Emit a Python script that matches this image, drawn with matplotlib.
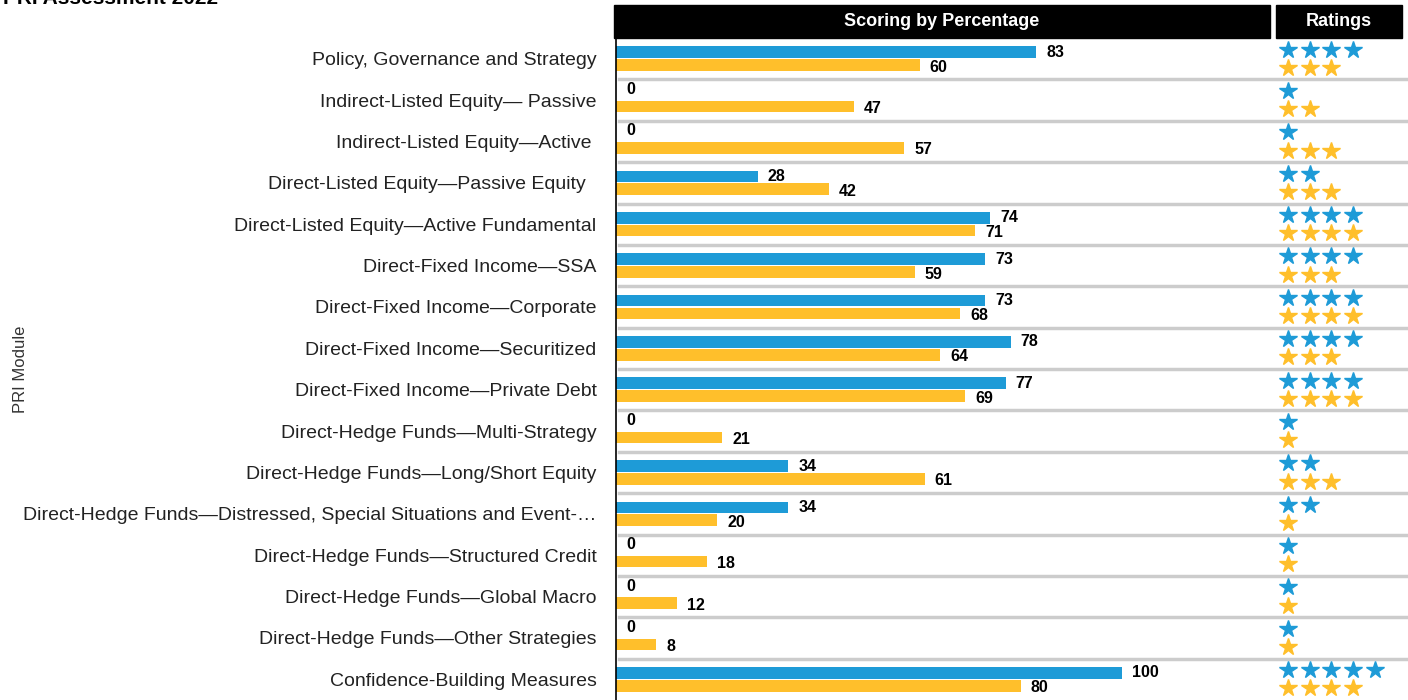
import numpy as np
import matplotlib
matplotlib.use("Agg")
import matplotlib.pyplot as plt
from matplotlib.patches import Rectangle

modules = [
    "Policy, Governance and Strategy",
    "Indirect-Listed Equity\u2014 Passive",
    "Indirect-Listed Equity\u2014Active ",
    "Direct-Listed Equity\u2014Passive Equity  ",
    "Direct-Listed Equity\u2014Active Fundamental",
    "Direct-Fixed Income\u2014SSA",
    "Direct-Fixed Income\u2014Corporate",
    "Direct-Fixed Income\u2014Securitized",
    "Direct-Fixed Income\u2014Private Debt",
    "Direct-Hedge Funds\u2014Multi-Strategy",
    "Direct-Hedge Funds\u2014Long/Short Equity",
    "Direct-Hedge Funds\u2014Distressed, Special Situations and Event-\u2026",
    "Direct-Hedge Funds\u2014Structured Credit",
    "Direct-Hedge Funds\u2014Global Macro",
    "Direct-Hedge Funds\u2014Other Strategies",
    "Confidence-Building Measures",
]
score_blue = [83, 0, 0, 28, 74, 73, 73, 78, 77, 0, 34, 34, 0, 0, 0, 100]
score_gold = [60, 47, 57, 42, 71, 59, 68, 64, 69, 21, 61, 20, 18, 12, 8, 80]
stars_blue = [4, 1, 1, 2, 4, 4, 4, 4, 4, 1, 2, 2, 1, 1, 1, 5]
stars_gold = [3, 2, 3, 3, 4, 3, 4, 3, 4, 1, 3, 1, 1, 1, 1, 4]

BLUE = "#1E9BD7"
GOLD = "#FFBF2B"
SEP = "#CCCCCC"
plt.rcParams["font.family"] = ["Liberation Sans", "DejaVu Sans"]

W, H = 1408, 700
fig = plt.figure(figsize=(W / 100, H / 100), dpi=100)

# main bar axes
ax = fig.add_axes([616 / W, 0, 654 / W, 1 - 38 / H])
n = len(modules)
y = np.arange(n)
bh = 0.28
off = 0.155
ax.barh(y - off, score_blue, height=bh, color=BLUE)
ax.barh(y + off, score_gold, height=bh, color=GOLD)
ax.set_xlim(0, 654 / 5.06)
ax.set_ylim(n - 0.5, -0.5)
for s in ["top", "right", "bottom"]:
    ax.spines[s].set_visible(False)
ax.spines["left"].set_linewidth(1.2)
ax.set_xticks([])
ax.set_yticks(y)
ax.set_yticklabels(modules, fontsize=14, color="#222222")
ax.tick_params(axis="y", length=0, pad=14)
ax.set_ylabel("PRI Module", fontsize=12, color="#333333")
ax.yaxis.set_label_coords(-588 / 654, 0.5)

for i in range(n):
    b, g = score_blue[i], score_gold[i]
    yb = i - off - (0.1 if b == 0 else 0)
    ax.text(b + 2.0, yb, str(b), fontsize=11.5, fontweight="bold",
            va="center", ha="left")
    ax.text(g + 2.0, i + off + 0.05, str(g), fontsize=11.5, fontweight="bold",
            va="center", ha="left")

# row separators
for i in range(n - 1):
    ax.axhline(i + 0.5, xmin=3 / 654, xmax=(W - 616) / 654, color=SEP,
               lw=2.5, clip_on=False, zorder=0)

# ratings axes
ax2 = fig.add_axes([1276 / W, 0, 132 / W, 1 - 38 / H])
ax2.set_xlim(-0.55, -0.55 + 132 / 21.7)
ax2.set_ylim(n - 0.5, -0.5)
ax2.axis("off")
for i in range(n):
    xb = np.arange(stars_blue[i])
    xg = np.arange(stars_gold[i])
    ax2.plot(xb, np.full(len(xb), i - 0.22), ls="", marker="*", ms=13,
             color=BLUE, mec=BLUE)
    ax2.plot(xg, np.full(len(xg), i + 0.22), ls="", marker="*", ms=13,
             color=GOLD, mec=GOLD)

# header boxes
fig.patches.append(Rectangle((614 / W, 1 - 38 / H), 656 / W, 33 / H,
                             transform=fig.transFigure, color="black"))
fig.patches.append(Rectangle((1276 / W, 1 - 38 / H), 126 / W, 33 / H,
                             transform=fig.transFigure, color="black"))
fig.text(942 / W, 1 - 22 / H, "Scoring by Percentage", color="white",
         fontsize=13, fontweight="bold", ha="center", va="center")
fig.text(1339 / W, 1 - 22 / H, "Ratings", color="white",
         fontsize=13, fontweight="bold", ha="center", va="center")

fig.text(0.002, 1 - 4 / H, "PRI Assessment 2022", fontsize=15,
         fontweight="bold", ha="left", va="baseline")

fig.savefig("out.png", dpi=100)
